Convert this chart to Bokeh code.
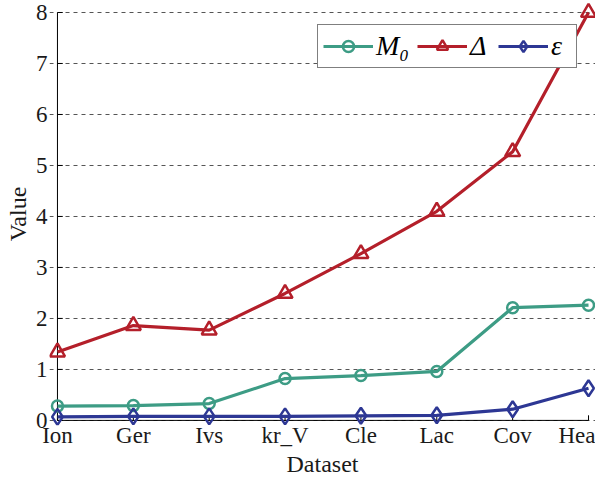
from bokeh.plotting import figure
from bokeh.models import Range1d, FixedTicker, Legend, LegendItem
from bokeh.embed import file_html
from bokeh.resources import INLINE

datasets = ["Ion", "Ger", "Ivs", "kr_V", "Cle", "Lac", "Cov", "Hea"]
m0 = [0.28, 0.29, 0.33, 0.82, 0.88, 0.96, 2.21, 2.26]
delta = [1.34, 1.86, 1.77, 2.49, 3.27, 4.10, 5.27, 8.0]
eps = [0.07, 0.08, 0.08, 0.08, 0.09, 0.10, 0.22, 0.63]
y_ticks = [0, 1, 2, 3, 4, 5, 6, 7, 8]

xs = list(range(len(datasets)))

FONT = "Liberation Serif"
TEAL = "#3d9c85"
RED = "#b41f2a"
BLUE = "#2d3794"
TXT = "#1a1a1a"

# small padding so edge markers are not clipped by the frame
X_PAD_L, X_PAD_R = 0.105, 0.092
Y_PAD_B, Y_PAD_T = 0.1, 0.196
TICK_X, TICK_Y = 0.1, 0.07

p = figure(width=595, height=479, output_backend="svg", toolbar_location=None,
           x_range=Range1d(xs[0] - X_PAD_L, xs[-1] + X_PAD_R),
           y_range=Range1d(y_ticks[0] - Y_PAD_B, y_ticks[-1] + Y_PAD_T),
           min_border_left=49, min_border_right=0, min_border_top=2, min_border_bottom=50)
p.outline_line_color = None
p.background_fill_color = "white"
p.border_fill_color = "white"

# axis lines and inward ticks drawn at the data origin
p.segment(x0=[xs[0]], y0=[y_ticks[0]], x1=[xs[0]], y1=[y_ticks[-1]], line_color="black", line_width=1)
p.segment(x0=[xs[0]], y0=[y_ticks[0]], x1=[xs[-1]], y1=[y_ticks[0]], line_color="black", line_width=1)
p.segment(x0=xs, y0=[y_ticks[0]] * len(xs), x1=xs, y1=[y_ticks[0] + TICK_X] * len(xs),
          line_color="black", line_width=1)
p.segment(x0=[xs[0]] * len(y_ticks), y0=y_ticks, x1=[xs[0] + TICK_Y] * len(y_ticks), y1=y_ticks,
          line_color="black", line_width=1)

r1l = p.line(xs, m0, line_color=TEAL, line_width=3.2)
r1m = p.scatter(xs, m0, marker="circle", size=11, line_color=TEAL, line_width=2.5, fill_color=None)
r2l = p.line(xs, delta, line_color=RED, line_width=3.2)
r2m = p.scatter(xs, delta, marker="triangle", size=15, line_color=RED, line_width=2.5, fill_color=None)
r3l = p.line(xs, eps, line_color=BLUE, line_width=3.2)
r3m = p.scatter(xs, eps, marker="diamond", size=16, line_color=BLUE, line_width=2.5, fill_color=None)

p.xaxis.ticker = FixedTicker(ticks=xs)
p.xaxis.major_label_overrides = {i: d for i, d in enumerate(datasets)}
p.yaxis.ticker = FixedTicker(ticks=y_ticks)
p.xaxis.axis_label = "Dataset"
p.yaxis.axis_label = "Value"

for ax in (p.xaxis, p.yaxis):
    ax.axis_line_color = None
    ax.major_tick_in = 0
    ax.major_tick_out = 0
    ax.major_tick_line_color = None
    ax.minor_tick_line_color = None
    ax.major_label_text_font = FONT
    ax.major_label_text_font_size = "23px"
    ax.major_label_text_color = TXT
    ax.axis_label_text_font = FONT
    ax.axis_label_text_font_size = "24px"
    ax.axis_label_text_font_style = "normal"
    ax.axis_label_text_color = TXT
p.xaxis.major_label_standoff = -3
p.xaxis.axis_label_standoff = 0
p.yaxis.major_label_standoff = 2
p.yaxis.axis_label_standoff = 2

p.xgrid.grid_line_color = None
p.ygrid.grid_line_color = "#555555"
p.ygrid.grid_line_dash = "4 4"
p.ygrid.grid_line_width = 1
p.ygrid.bounds = (xs[0], xs[-1])

legend = Legend(items=[
    LegendItem(label="M₀", renderers=[r1l, r1m]),
    LegendItem(label="Δ", renderers=[r2l, r2m]),
    LegendItem(label="ε", renderers=[r3l, r3m]),
], orientation="horizontal", location=(268, 357))
legend.label_text_font = FONT
legend.label_text_font_size = "28px"
legend.label_text_font_style = "italic"
legend.label_text_color = "black"
legend.glyph_width = 50
legend.glyph_height = 28
legend.label_standoff = 3
legend.spacing = 8
legend.padding = 5
legend.margin = 0
legend.border_line_color = "black"
legend.border_line_width = 1
legend.background_fill_alpha = 1
p.add_layout(legend)

open("out.html", "w").write(file_html(p, INLINE))
